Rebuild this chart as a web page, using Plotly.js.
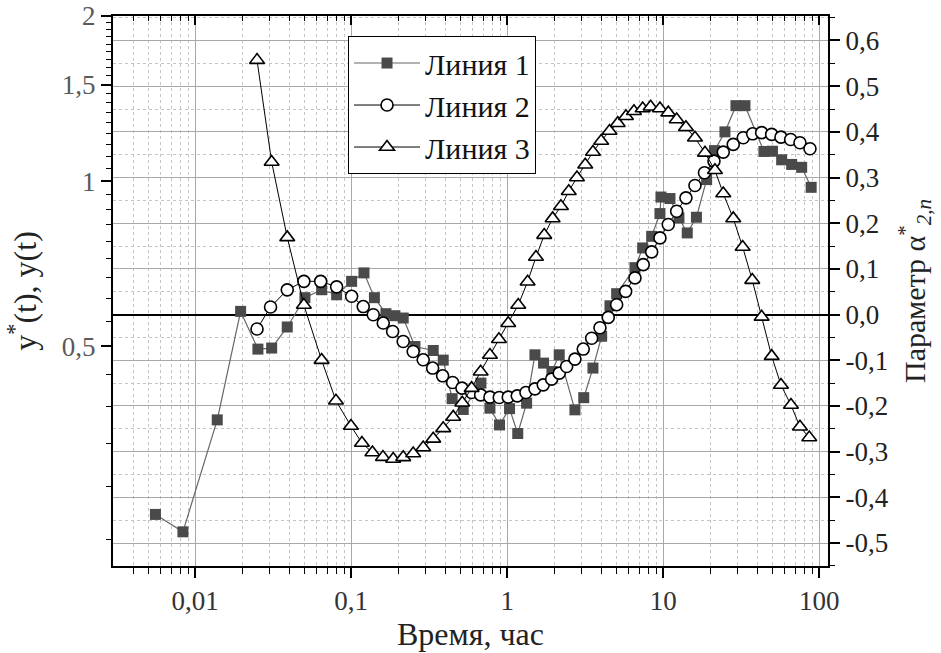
<!DOCTYPE html>
<html>
<head>
<meta charset="utf-8">
<script src="https://cdn.plot.ly/plotly-3.0.1.min.js"></script>
<style>
html,body{margin:0;padding:0;background:#fff;}
</style>
</head>
<body>
<div id="chart"></div>
<script>
// Линия 1 (left axis, log)
const line1X = [0.00556, 0.00834, 0.01384, 0.01954, 0.02523, 0.0309, 0.0389, 0.0505, 0.0646, 0.0806, 0.1006, 0.1207, 0.1408, 0.1669, 0.1906, 0.2154, 0.2561, 0.3354, 0.3887, 0.4434, 0.5224, 0.6783, 0.7746, 0.8925, 1.0345, 1.1676, 1.331, 1.505, 1.709, 1.934, 2.154, 2.716, 3.093, 3.543, 4.028, 4.554, 5.027, 6.587, 7.38, 8.428, 9.524, 9.667, 11.04, 12.61, 14.25, 16.32, 18.97, 21.29, 24.86, 29.24, 33.40, 44.20, 50.12, 57.41, 66.55, 77.13, 88.74];
const line1Y = [0.2471, 0.2297, 0.3674, 0.5792, 0.4944, 0.4966, 0.5425, 0.6135, 0.6343, 0.621, 0.657, 0.6807, 0.6135, 0.5736, 0.5688, 0.5633, 0.4999, 0.4916, 0.4721, 0.4016, 0.3838, 0.4287, 0.3859, 0.3597, 0.3851, 0.3470, 0.3941, 0.4827, 0.4662, 0.4501, 0.4827, 0.3832, 0.4033, 0.4566, 0.5218, 0.5930, 0.6238, 0.6958, 0.7558, 0.7936, 0.8730, 0.9358, 0.9299, 0.8574, 0.8050, 0.8597, 1.007, 1.137, 1.230, 1.373, 1.373, 1.133, 1.134, 1.094, 1.073, 1.060, 0.9747];

// Линия 2 (left axis, log)
const line2X = [0.0249, 0.0304, 0.0389, 0.0497, 0.0637, 0.0806, 0.1006, 0.1194, 0.1384, 0.1604, 0.1842, 0.2154, 0.2496, 0.2893, 0.3325, 0.3853, 0.4467, 0.5125, 0.5911, 0.6753, 0.7746, 0.8887, 1.015, 1.159, 1.318, 1.505, 1.701, 1.926, 2.154, 2.403, 2.716, 3.070, 3.476, 3.929, 4.441, 5.027, 5.741, 6.587, 7.443, 8.428, 9.524, 10.77, 12.19, 13.98, 15.97, 18.37, 21.14, 24.25, 28.10, 32.57, 37.42, 42.73, 49.54, 56.83, 65.57, 75.20, 87.2];
const line2Y = [0.538, 0.590, 0.634, 0.657, 0.657, 0.642, 0.617, 0.591, 0.571, 0.5515, 0.5324, 0.5105, 0.4895, 0.4727, 0.4566, 0.4420, 0.4297, 0.4198, 0.4121, 0.4081, 0.4042, 0.4035, 0.4042, 0.4064, 0.4121, 0.4185, 0.4256, 0.4359, 0.4470, 0.4596, 0.4741, 0.4945, 0.5175, 0.5408, 0.5648, 0.5957, 0.6299, 0.6665, 0.7047, 0.7433, 0.7883, 0.8338, 0.8815, 0.9326, 0.982, 1.036, 1.088, 1.130, 1.167, 1.200, 1.220, 1.226, 1.217, 1.203, 1.191, 1.175, 1.146];

// Линия 3 (right axis, linear)
const line3X = [0.0249, 0.0309, 0.0389, 0.0497, 0.0646, 0.0798, 0.0996, 0.1171, 0.1367, 0.1597, 0.1858, 0.2154, 0.2496, 0.2893, 0.3354, 0.3887, 0.4506, 0.5147, 0.5911, 0.6753, 0.7746, 0.8848, 1.015, 1.176, 1.351, 1.528, 1.726, 1.954, 2.209, 2.479, 2.798, 3.162, 3.543, 3.999, 4.527, 5.109, 5.768, 6.491, 7.38, 8.30, 9.52, 10.77, 12.19, 13.98, 15.97, 18.51, 21.45, 24.25, 28.10, 32.28, 37.20, 42.73, 49.54, 56.83, 65.86, 75.20, 86.30];
const line3Y = [0.557, 0.334, 0.169, 0.021, -0.0996, -0.1886, -0.244, -0.281, -0.302, -0.312, -0.316, -0.3125, -0.304, -0.291, -0.272, -0.249, -0.224, -0.193, -0.161, -0.125, -0.0886, -0.054, -0.019, 0.021, 0.072, 0.126, 0.174, 0.2105, 0.237, 0.270, 0.300, 0.328, 0.356, 0.380, 0.402, 0.419, 0.434, 0.445, 0.451, 0.455, 0.451, 0.442, 0.427, 0.410, 0.387, 0.354, 0.316, 0.265, 0.2105, 0.148, 0.0755, -0.005, -0.091, -0.154, -0.198, -0.2455, -0.269];

const seriesNames = ['Линия 1', 'Линия 2', 'Линия 3'];

// Axis ticks
const xTickVals = [0.01, 0.1, 1, 10, 100];
const xTickText = ['0,01', '0,1', '1', '10', '100'];
const xMinorVals = [0.004,0.005,0.006,0.007,0.008,0.009,0.02,0.03,0.04,0.05,0.06,0.07,0.08,0.09,0.2,0.3,0.4,0.5,0.6,0.7,0.8,0.9,2,3,4,5,6,7,8,9,20,30,40,50,60,70,80,90];
const yLeftTickVals = [0.5, 1, 1.5, 2];
const yLeftTickText = ['0,5', '1', '1,5', '2'];
const yLeftMinorVals = [0.2222,0.2778,0.3333,0.3889,0.4444,0.5556,0.6111,0.6667,0.7222,0.7778,0.8333,0.8889,0.9444,1.0556,1.1111,1.1667,1.2222,1.2778,1.3333,1.3889,1.4444,1.5556,1.6111,1.6667,1.7222,1.7778,1.8333,1.8889,1.9444];
const yRightTickVals = [-0.5,-0.4,-0.3,-0.2,-0.1,0,0.1,0.2,0.3,0.4,0.5,0.6];
const yRightTickText = ['-0,5','-0,4','-0,3','-0,2','-0,1','0,0','0,1','0,2','0,3','0,4','0,5','0,6'];

const traces = [
  {x: line1X, y: line1Y, name: seriesNames[0], mode: 'lines+markers', xaxis: 'x', yaxis: 'y',
   line: {color: '#666', width: 1.2},
   marker: {symbol: 'square', size: 11, color: '#4a4a4a', line: {width: 0}}},
  {x: line2X, y: line2Y, name: seriesNames[1], mode: 'lines+markers', xaxis: 'x', yaxis: 'y',
   line: {color: '#000', width: 1},
   marker: {symbol: 'circle', size: 12, color: '#fff', line: {color: '#000', width: 1.6}}},
  {x: line3X, y: line3Y, name: seriesNames[2], mode: 'lines+markers', xaxis: 'x', yaxis: 'y2',
   line: {color: '#000', width: 1},
   marker: {symbol: 'triangle-up', size: 13, color: '#fff', line: {color: '#000', width: 1.6}}},
  {x: [], y: [], xaxis: 'x2', yaxis: 'y', showlegend: false, hoverinfo: 'skip', mode: 'markers'}
];

const layout = {
  width: 941, height: 653,
  margin: {l: 113, r: 113, t: 16, b: 87},
  paper_bgcolor: '#fff', plot_bgcolor: '#fff',
  font: {family: 'Liberation Serif', size: 27, color: '#222'},
  showlegend: true,
  legend: {x: 0.3287, y: 0.9636, xanchor: 'left', yanchor: 'top', bgcolor: '#fff',
           bordercolor: '#000', borderwidth: 1, font: {size: 30, color: '#111'},
           itemwidth: 66, tracegroupgap: 0},
  xaxis: {
    type: 'log', range: [-2.527, 2.056],
    tickmode: 'array', tickvals: xTickVals, ticktext: xTickText,
    ticks: 'outside', ticklen: 10, tickwidth: 1.5, tickcolor: '#000',
    showline: true, linecolor: '#000', linewidth: 2,
    showgrid: true, gridcolor: '#a8a8a8', gridwidth: 1, zeroline: false,
    tickfont: {size: 27, color: '#333'},
    minor: {tickmode: 'array', tickvals: xMinorVals, ticks: 'outside', ticklen: 6, tickwidth: 1.2, tickcolor: '#000',
            showgrid: true, gridcolor: '#c4c4c4', griddash: 'dot', gridwidth: 1},
    title: {text: 'Время, час', font: {size: 32, color: '#222'}, standoff: 6}
  },
  xaxis2: {
    type: 'log', range: [-2.527, 2.056], overlaying: 'x', side: 'top', anchor: 'y',
    tickmode: 'array', tickvals: xTickVals, showticklabels: false,
    ticks: 'inside', ticklen: 9, tickwidth: 1.5, tickcolor: '#000',
    showline: true, linecolor: '#000', linewidth: 2, showgrid: false, zeroline: false,
    minor: {tickmode: 'array', tickvals: xMinorVals, ticks: 'inside', ticklen: 5, tickwidth: 1.2, tickcolor: '#000', showgrid: false}
  },
  yaxis: {
    type: 'log', range: [-0.7011, 0.30103],
    tickmode: 'array', tickvals: yLeftTickVals, ticktext: yLeftTickText,
    ticks: 'outside', ticklen: 10, tickwidth: 1.5, tickcolor: '#000',
    showline: true, linecolor: '#000', linewidth: 2, showgrid: false, zeroline: false,
    tickfont: {size: 27, color: '#5a5a5a'},
    minor: {tickmode: 'array', tickvals: yLeftMinorVals, ticks: 'outside', ticklen: 5, tickwidth: 1.2, tickcolor: '#000', showgrid: false},
    title: {text: 'y<sup>*</sup>(t), y(t)', font: {size: 32, color: '#222'}, standoff: 16}
  },
  yaxis2: {
    overlaying: 'y', side: 'right', anchor: 'x', range: [-0.5503, 0.6536],
    tickmode: 'array', tickvals: yRightTickVals, ticktext: yRightTickText,
    ticks: 'outside', ticklen: 10, tickwidth: 1.5, tickcolor: '#000',
    showline: true, linecolor: '#000', linewidth: 2,
    showgrid: true, gridcolor: '#a8a8a8', gridwidth: 1,
    zeroline: true, zerolinecolor: '#000', zerolinewidth: 1.6,
    tickfont: {size: 27, color: '#222'},
    minor: {tickmode: 'linear', tick0: 0, dtick: 0.05, ticks: 'outside', ticklen: 5, tickwidth: 1.2, tickcolor: '#000',
            showgrid: true, gridcolor: '#c4c4c4', griddash: 'dot', gridwidth: 1},
    title: {text: 'Параметр α<sup>*</sup><sub><i>2,n</i></sub>', font: {size: 30, color: '#222'}, standoff: 16}
  }
};

Plotly.newPlot('chart', traces, layout, {displayModeBar: false});
</script>
</body>
</html>
